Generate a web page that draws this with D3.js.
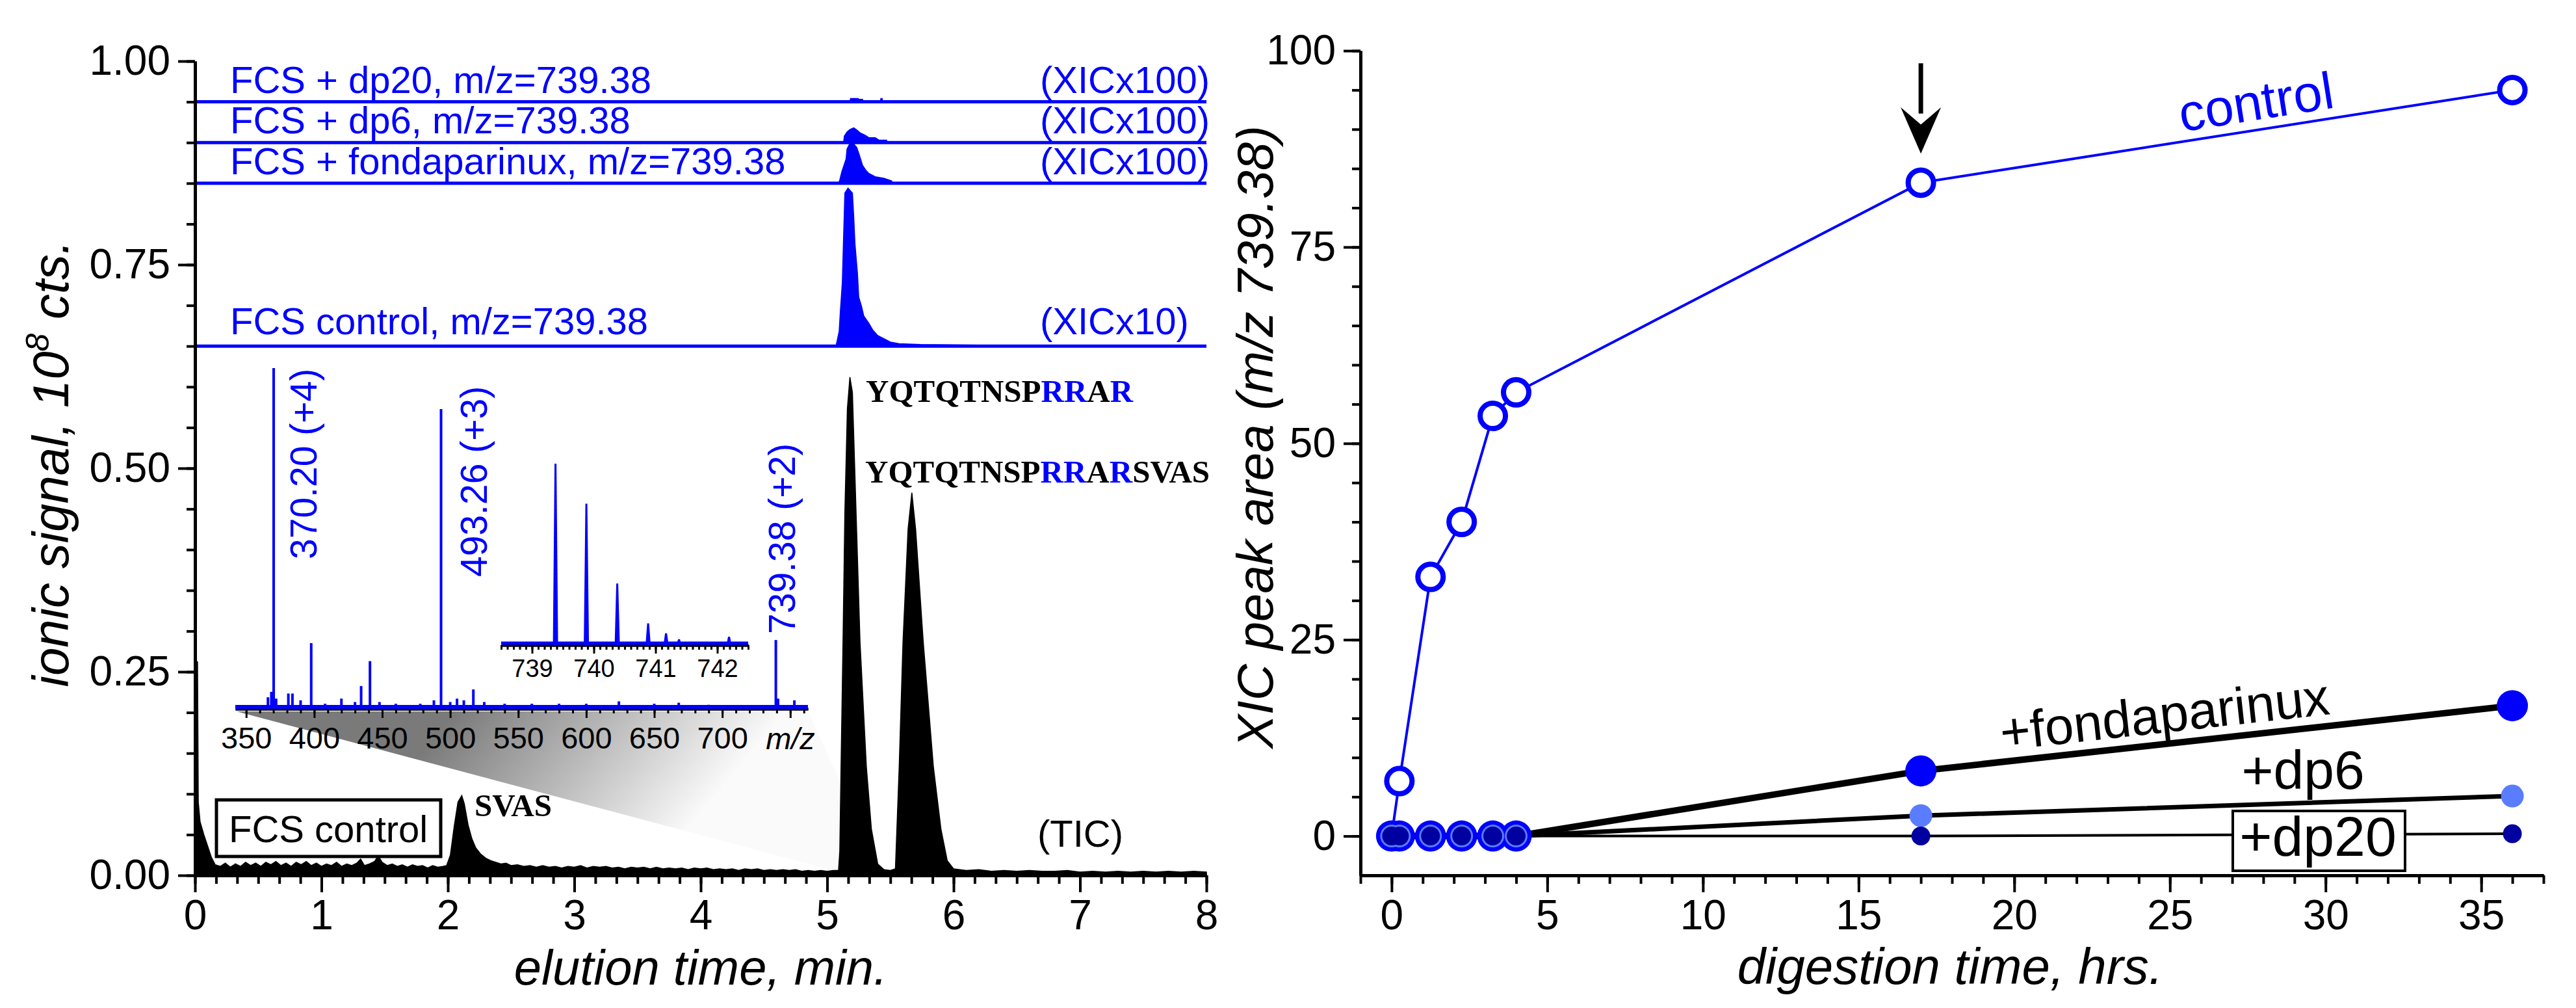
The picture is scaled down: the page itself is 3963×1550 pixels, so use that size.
<!DOCTYPE html>
<html><head><meta charset="utf-8">
<script src="https://cdn.jsdelivr.net/npm/d3@7"></script>
<style>body{margin:0;background:#fff}</style>
</head><body>
<svg id="c" width="3963" height="1550" xmlns="http://www.w3.org/2000/svg"></svg>
<script>
// ---------------- DATA ----------------
// Left panel: TIC (elution time min, signal 1e8 cts)
const ticData = [
[0,0],[0.004,0.264],[0.02,0.262],[0.026,0.09],[0.04,0.066],[0.07,0.05],[0.1,0.036],[0.13,0.022],[0.16,0.013],[0.2,0.011],
[0.24,0.015],[0.28,0.01],[0.32,0.014],[0.36,0.011],[0.4,0.016],[0.44,0.012],[0.48,0.015],[0.52,0.011],[0.56,0.016],[0.6,0.013],
[0.64,0.017],[0.68,0.012],[0.72,0.015],[0.76,0.011],[0.8,0.016],[0.84,0.013],[0.88,0.017],[0.92,0.012],[0.96,0.015],[1.0,0.011],
[1.04,0.014],[1.08,0.012],[1.12,0.016],[1.16,0.011],[1.2,0.014],[1.24,0.012],[1.28,0.015],[1.31,0.02],[1.34,0.012],[1.38,0.014],
[1.42,0.017],[1.45,0.024],[1.48,0.016],[1.52,0.012],[1.56,0.014],[1.6,0.011],[1.64,0.013],[1.68,0.01],[1.72,0.013],[1.76,0.011],
[1.8,0.012],[1.84,0.009],[1.88,0.012],[1.92,0.01],[1.96,0.011],[1.99,0.012],
[2.02,0.025],[2.05,0.06],[2.08,0.09],[2.11,0.098],[2.13,0.088],[2.16,0.062],[2.19,0.045],[2.22,0.034],[2.26,0.026],[2.3,0.021],
[2.34,0.018],[2.38,0.016],[2.42,0.014],[2.46,0.015],[2.5,0.012],
[2.55,0.013],[2.6,0.011],[2.65,0.012],[2.7,0.01],[2.75,0.012],[2.8,0.01],[2.85,0.011],[2.9,0.009],[2.95,0.011],[3.0,0.01],
[3.05,0.012],[3.1,0.009],[3.15,0.011],[3.2,0.01],[3.25,0.011],[3.3,0.009],[3.35,0.01],[3.4,0.008],[3.45,0.01],[3.5,0.009],
[3.55,0.01],[3.6,0.008],[3.65,0.01],[3.7,0.008],[3.75,0.009],[3.8,0.008],[3.85,0.009],[3.9,0.007],[3.95,0.009],[4.0,0.008],
[4.05,0.009],[4.1,0.007],[4.15,0.008],[4.2,0.007],[4.25,0.008],[4.3,0.006],[4.35,0.008],[4.4,0.007],[4.45,0.008],[4.5,0.006],
[4.55,0.007],[4.6,0.006],[4.65,0.007],[4.7,0.006],[4.75,0.007],[4.8,0.005],[4.85,0.006],[4.9,0.005],[4.95,0.006],[5.0,0.005],
[5.05,0.006],[5.09,0.006],[5.1,0.03],[5.11,0.134],[5.125,0.282],[5.14,0.445],[5.16,0.573],[5.18,0.612],[5.2,0.593],[5.23,0.44],
[5.26,0.287],[5.31,0.134],[5.35,0.057],[5.4,0.014],[5.45,0.007],[5.5,0.006],[5.54,0.008],
[5.57,0.134],[5.6,0.287],[5.64,0.425],[5.67,0.47],[5.7,0.425],[5.76,0.287],[5.84,0.134],[5.9,0.057],[5.95,0.018],[6.0,0.008],
[6.05,0.007],[6.1,0.006],[6.2,0.007],[6.3,0.005],[6.4,0.006],[6.5,0.005],[6.6,0.006],[6.7,0.005],[6.8,0.005],[6.9,0.006],
[7.0,0.004],[7.1,0.005],[7.2,0.004],[7.3,0.005],[7.4,0.004],[7.5,0.005],[7.6,0.004],[7.7,0.005],[7.8,0.004],[7.9,0.005],
[8.0,0.004],[8.0,0]
];

// XIC traces (m/z 739.38), heights above their offset baselines (axis units)
const xicLabels  = ["FCS + dp20, m/z=739.38","FCS + dp6, m/z=739.38","FCS + fondaparinux, m/z=739.38","FCS control, m/z=739.38"];
const xicScaleLabels = ["(XICx100)","(XICx100)","(XICx100)","(XICx10)"];
const xicOffsets = [0.95, 0.90, 0.85, 0.65];
const xicDp20 = [[5.18,0],[5.185,0.004],[5.245,0.004],[5.25,0.003],[5.28,0.003],[5.285,0],[5.42,0],[5.425,0.004],[5.435,0.004],[5.44,0]];
const xicDp6 = [[5.13,0],[5.136,0.008],[5.157,0.013],[5.18,0.016],[5.21,0.018],[5.23,0.016],[5.26,0.012],[5.3,0.009],[5.33,0.006],[5.38,0.006],[5.41,0.003],[5.47,0.003],[5.475,0]];
const xicFonda = [[5.09,0],[5.1,0.004],[5.116,0.014],[5.15,0.03],[5.157,0.042],[5.177,0.048],[5.19,0.05],[5.2,0.05],[5.234,0.044],[5.254,0.035],[5.28,0.022],[5.306,0.016],[5.33,0.012],[5.38,0.008],[5.45,0.006],[5.51,0.003],[5.517,0]];
const xicControl = [[5.07,0],[5.095,0.018],[5.105,0.044],[5.12,0.078],[5.13,0.134],[5.14,0.188],[5.165,0.194],[5.2,0.188],[5.21,0.16],[5.22,0.126],[5.24,0.089],[5.25,0.06],[5.27,0.05],[5.29,0.037],[5.33,0.028],[5.36,0.02],[5.4,0.013],[5.45,0.009],[5.5,0.005],[5.57,0.003],[5.74,0.002],[6.2,0.0012],[6.6,0.001],[6.62,0]];
const xicSeries = [xicDp20, xicDp6, xicFonda, xicControl];

// Inset mass spectrum (m/z, relative intensity)
const specPeaks = [[366,3.4],[368.5,5],[370.2,100],[372,3],[381,4.5],[384,4.5],[390,2.5],[397.8,19.3],[408,1.5],[420,3],[430,2],
[434.5,6.7],[441,14],[448,2],[460,1.5],[478,1.5],[488,2.5],[493.26,88],[500,2],[505,3],[510,2.5],[517,5.7],[525,2],[540,1.5],
[560,1.5],[580,1.5],[600,1.5],[624,2.2],[650,1.5],[668,1.8],[690,1.2],[739.38,20.2],[741,3],[753,2.5]];
const specLabels = ["370.20 (+4)","493.26 (+3)","739.38 (+2)"];
const specTicks = [350,400,450,500,550,600,650,700,750];
// Inner inset: isotope cluster
const isoPeaks = [[739.38,100],[739.88,78],[740.38,34],[740.88,12],[741.17,6.5],[741.38,3.2],[742.19,4.7]];
const isoTicks = [739,740,741,742];

// Right panel: XIC peak area vs digestion time
const hours = [0,0.25,1.25,2.25,3.25,4,17,36];
const areaControl = [0,7,33,40,53.5,56.5,83.2,95];
const areaFonda = [0,0,0,0,0,0,8.3,16.6];
const areaDp6 = [0,0,0,0,0,0,2.6,5.1];
const areaDp20 = [0,0,0,0,0,0,0,0.3];

const leftYTicks = [0,0.25,0.5,0.75,1.0];
const leftXTicks = [0,1,2,3,4,5,6,7,8];
const rightYTicks = [0,25,50,75,100];
const rightXTicks = [0,5,10,15,20,25,30,35];

// ---------------- DRAW ----------------
const FONT = "'Liberation Sans', Arial, Helvetica, sans-serif";
const SERIF = "'Liberation Serif', 'Times New Roman', serif";
const BLUE = "#0000ff";
const svg = d3.select("#c");
svg.append("rect").attr("width",3963).attr("height",1550).attr("fill","#fff");

const xL = d3.scaleLinear([0,8],[300,1856]);
const yL = d3.scaleLinear([0,1],[1346,94]);
const xM = d3.scaleLinear([342,763],[362,1243]);
const yM = d3.scaleLinear([0,100],[1090,566]);
const xI = d3.scaleLinear([738.5,742.5],[771,1151]);
const yI = d3.scaleLinear([0,100],[992,713]);
const xR = d3.scaleLinear([-1,37],[2093,3913]);
const yR = d3.scaleLinear([-5,100],[1346,78]);

function styleAxis(g, fs, sw){
  g.select(".domain").attr("stroke","#000").attr("stroke-width",sw||5);
  g.selectAll(".tick line").attr("stroke","#000").attr("stroke-width",sw?sw-1:4);
  g.selectAll(".tick text").attr("font-size",fs).attr("font-family",FONT).attr("fill","#000");
}
function minorAxis(axisFn, scale, values, size, tx, ty, sw){
  const g = svg.append("g").attr("transform",`translate(${tx},${ty})`)
    .call(axisFn(scale).tickValues(values).tickSize(size).tickFormat("").tickSizeOuter(0));
  styleAxis(g, 10, sw);
  g.selectAll(".tick text").remove();
  return g;
}

// ---- gray zoom wedge ----
const defs = svg.append("defs");
const grad = defs.append("linearGradient").attr("id","wedge").attr("gradientUnits","userSpaceOnUse")
  .attr("x1",700).attr("y1",1095).attr("x2",1000).attr("y2",1345);
grad.append("stop").attr("offset",0).attr("stop-color","#7a7a7a");
grad.append("stop").attr("offset",1).attr("stop-color","#fafafa");
svg.append("path").attr("fill","url(#wedge)")
  .attr("d", d3.line()([[xM(343), yM(0)+4],[xM(763), yM(0)+4],[xL(5.1), yL(0.117)],[xL(5.1), yL(0.004)]]) + "Z");

// ---- TIC ----
svg.append("path").datum(ticData).attr("fill","#000").attr("stroke","#000").attr("stroke-width",1.5)
  .attr("d", d3.area().x(d=>xL(d[0])).y0(yL(0)).y1(d=>yL(d[1])));

// ---- XIC traces ----
xicSeries.forEach((s,i)=>{
  const off = xicOffsets[i];
  svg.append("path").datum(s).attr("fill",BLUE).attr("stroke",BLUE).attr("stroke-width",1.5)
    .attr("d", d3.area().x(d=>xL(d[0])).y0(yL(off)).y1(d=>yL(off+d[1])));
  svg.append("line").attr("x1",xL(0)).attr("x2",xL(8)).attr("y1",yL(off)).attr("y2",yL(off))
    .attr("stroke",BLUE).attr("stroke-width",5);
  svg.append("text").attr("x",354).attr("y",yL(off)-(i===3?18:14)).text(xicLabels[i])
    .attr("font-family",FONT).attr("font-size",58).attr("fill",BLUE);
  svg.append("text").attr("x",1600).attr("y",yL(off)-(i===3?18:14)).text(xicScaleLabels[i])
    .attr("font-family",FONT).attr("font-size",58).attr("fill",BLUE);
});

// ---- left axes ----
minorAxis(d3.axisLeft, yL, d3.range(0,1.0001,0.05), 13, 300, 0);
minorAxis(d3.axisBottom, xL, d3.range(0,8.001,1/6), 13, 0, 1346);
const gLy = svg.append("g").attr("transform","translate(300,0)")
  .call(d3.axisLeft(yL).tickValues(leftYTicks).tickFormat(d3.format(".2f")).tickSize(26).tickPadding(12).tickSizeOuter(0));
styleAxis(gLy, 64);
const gLx = svg.append("g").attr("transform","translate(0,1346)")
  .call(d3.axisBottom(xL).tickValues(leftXTicks).tickFormat(d3.format("d")).tickSize(26).tickPadding(12).tickSizeOuter(0));
styleAxis(gLx, 64);

// ---- inset spectrum ----
minorAxis(d3.axisBottom, xM, d3.range(350,761,10), 7, 0, 1090, 4);
const gM = svg.append("g").attr("transform","translate(0,1090)")
  .call(d3.axisBottom(xM).tickValues(specTicks).tickFormat(d=> d<=700 ? d : "").tickSize(14).tickPadding(14).tickSizeOuter(0));
styleAxis(gM, 47, 4);
gM.selectAll(".tick text").filter(d=>d>700).remove();
svg.append("text").attr("x",1216).attr("y",1152).attr("text-anchor","middle").text("m/z")
  .attr("font-family",FONT).attr("font-style","italic").attr("font-size",47);
svg.append("line").attr("x1",xM(342)).attr("x2",xM(763)).attr("y1",yM(0)-3).attr("y2",yM(0)-3)
  .attr("stroke",BLUE).attr("stroke-width",6);
svg.append("g").selectAll("line").data(specPeaks).join("line")
  .attr("x1",d=>xM(d[0])).attr("x2",d=>xM(d[0])).attr("y1",yM(0)).attr("y2",d=>yM(d[1]))
  .attr("stroke",BLUE).attr("stroke-width",4);
const specLabelPos = [[487,860],[749,887],[1223,975]];
specLabels.forEach((t,i)=>{
  svg.append("text").attr("transform",`translate(${specLabelPos[i][0]},${specLabelPos[i][1]}) rotate(-90)`)
    .text(t).attr("font-family",FONT).attr("font-size",57).attr("fill",BLUE);
});

// ---- inner inset (isotopes) ----
minorAxis(d3.axisBottom, xI, d3.range(738.5,742.501,0.1), 7, 0, 992, 4);
const gI = svg.append("g").attr("transform","translate(0,992)")
  .call(d3.axisBottom(xI).tickValues(isoTicks).tickFormat(d3.format("d")).tickSize(13).tickPadding(9).tickSizeOuter(0));
styleAxis(gI, 38, 4);
svg.append("line").attr("x1",xI(738.5)).attr("x2",xI(742.5)).attr("y1",yI(0)-3).attr("y2",yI(0)-3)
  .attr("stroke",BLUE).attr("stroke-width",5);
svg.append("g").selectAll("path").data(isoPeaks).join("path").attr("fill",BLUE)
  .attr("d",d=>`M${xI(d[0])-4},${yI(0)}L${xI(d[0])-1.5},${yI(d[1])}L${xI(d[0])+1.5},${yI(d[1])}L${xI(d[0])+4},${yI(0)}Z`);

// ---- left annotations ----
function pep(x,y,parts){
  const t = svg.append("text").attr("x",x).attr("y",y).attr("font-family",SERIF).attr("font-weight","bold")
    .attr("font-size",49);
  parts.forEach(p=> t.append("tspan").text(p[0]).attr("fill",p[1]));
}
pep(1332,618,[["YQTQTNSP","#000"],["RR",BLUE],["A","#000"],["R",BLUE]]);
pep(1331,742,[["YQTQTNSP","#000"],["RR",BLUE],["A","#000"],["R",BLUE],["SVAS","#000"]]);
pep(730,1255,[["SVAS","#000"]]);
svg.append("text").attr("x",1596).attr("y",1302).text("(TIC)").attr("font-family",FONT).attr("font-size",58);
svg.append("rect").attr("x",333).attr("y",1230).attr("width",345).attr("height",87)
  .attr("fill","#fff").attr("stroke","#000").attr("stroke-width",5);
svg.append("text").attr("x",352).attr("y",1295).text("FCS control").attr("font-family",FONT).attr("font-size",58);

// left axis titles
svg.append("text").attr("x",1078).attr("y",1514).attr("text-anchor","middle").text("elution time, min.")
  .attr("font-family",FONT).attr("font-style","italic").attr("font-size",76);
const yt = svg.append("text").attr("transform","translate(105,713) rotate(-90)").attr("text-anchor","middle")
  .attr("font-family",FONT).attr("font-style","italic").attr("font-size",78);
yt.append("tspan").text("ionic signal, 10");
yt.append("tspan").text("8").attr("font-size",50).attr("dy",-30);
yt.append("tspan").text(" cts.").attr("dy",30);

// ---------------- RIGHT PANEL ----------------
minorAxis(d3.axisLeft, yR, d3.range(0,100.001,5), 13, 2093, 0);
minorAxis(d3.axisBottom, xR, d3.range(-1,37.001,1), 13, 0, 1346);
const gRy = svg.append("g").attr("transform","translate(2093,0)")
  .call(d3.axisLeft(yR).tickValues(rightYTicks).tickSize(26).tickPadding(12).tickSizeOuter(0));
styleAxis(gRy, 64);
const gRx = svg.append("g").attr("transform","translate(0,1346)")
  .call(d3.axisBottom(xR).tickValues(rightXTicks).tickSize(26).tickPadding(12).tickSizeOuter(0));
styleAxis(gRx, 64);

const ln = vals => d3.line()(hours.map((h,i)=>[xR(h), yR(vals[i])]));
svg.append("path").attr("d",ln(areaDp20)).attr("fill","none").attr("stroke","#000").attr("stroke-width",4);
svg.append("path").attr("d",ln(areaDp6)).attr("fill","none").attr("stroke","#000").attr("stroke-width",7);
svg.append("path").attr("d",ln(areaFonda)).attr("fill","none").attr("stroke","#000").attr("stroke-width",10);
svg.append("path").attr("d",ln(areaControl)).attr("fill","none").attr("stroke",BLUE).attr("stroke-width",4);

svg.append("g").selectAll("circle").data(hours).join("circle")
  .attr("cx",d=>xR(d)).attr("cy",(d,i)=>yR(areaControl[i])).attr("r",19.5)
  .attr("fill","#fff").attr("stroke",BLUE).attr("stroke-width",8);
svg.append("g").selectAll("circle").data(hours).join("circle")
  .attr("cx",d=>xR(d)).attr("cy",(d,i)=>yR(areaFonda[i])).attr("r",24).attr("fill",BLUE);
svg.append("g").selectAll("circle").data(hours).join("circle")
  .attr("cx",d=>xR(d)).attr("cy",(d,i)=>yR(areaDp6[i])).attr("r",17.5).attr("fill","#5a7cff");
svg.append("g").selectAll("circle").data(hours).join("circle")
  .attr("cx",d=>xR(d)).attr("cy",(d,i)=>yR(areaDp20[i])).attr("r",14.5).attr("fill","#0000a0");

// arrow at 17 h
svg.append("line").attr("x1",xR(17)).attr("x2",xR(17)).attr("y1",yR(98.4)).attr("y2",yR(92))
  .attr("stroke","#000").attr("stroke-width",7);
svg.append("path").attr("fill","#000")
  .attr("d",`M${xR(17)-31},${yR(92.8)}L${xR(17)},${yR(86.9)}L${xR(17)+31},${yR(92.8)}L${xR(17)},${yR(90.6)}Z`);

// labels
svg.append("text").attr("transform","translate(3475,184) rotate(-9)").attr("text-anchor","middle")
  .text("control").attr("font-family",FONT).attr("font-size",80).attr("fill",BLUE);
svg.append("text").attr("transform","translate(3333,1126) rotate(-6.3)").attr("text-anchor","middle")
  .text("+fondaparinux").attr("font-family",FONT).attr("font-size",80).attr("fill","#000");
svg.append("text").attr("x",3543).attr("y",1213).attr("text-anchor","middle")
  .text("+dp6").attr("font-family",FONT).attr("font-size",84).attr("fill","#000");
svg.append("rect").attr("x",3435).attr("y",1247).attr("width",265).attr("height",92)
  .attr("fill","#fff").attr("stroke","#000").attr("stroke-width",4);
svg.append("text").attr("x",3566).attr("y",1316).attr("text-anchor","middle")
  .text("+dp20").attr("font-family",FONT).attr("font-size",86).attr("fill","#000");

svg.append("text").attr("x",3000).attr("y",1513).attr("text-anchor","middle").text("digestion time, hrs.")
  .attr("font-family",FONT).attr("font-style","italic").attr("font-size",78);
svg.append("text").attr("transform","translate(1958,672) rotate(-90)").attr("text-anchor","middle")
  .text("XIC peak area (m/z 739.38)").attr("font-family",FONT).attr("font-style","italic").attr("font-size",78);
</script>
</body></html>
